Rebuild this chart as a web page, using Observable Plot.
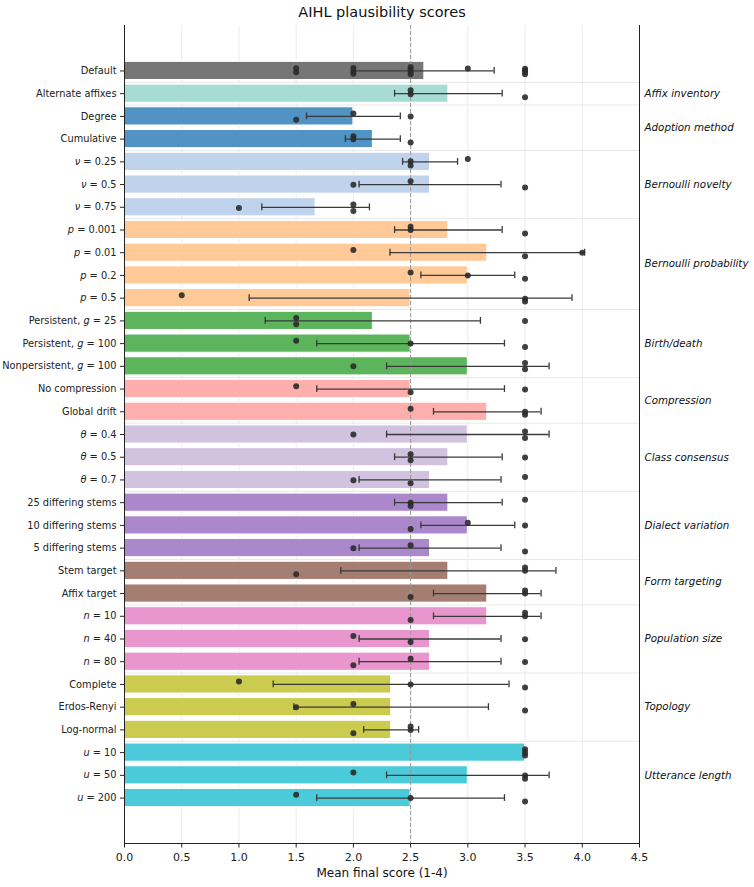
<!DOCTYPE html>
<html><head><meta charset="utf-8">
<script src="https://cdn.jsdelivr.net/npm/d3@7"></script>
<script src="https://cdn.jsdelivr.net/npm/@observablehq/plot@0.6"></script>
<style>body{margin:0;background:#fff}</style>
</head><body><div id="chart"></div>
<script>
const title = "AIHL plausibility scores";
const xLabel = "Mean final score (1-4)";
const xTicks = [0, 0.5, 1, 1.5, 2, 2.5, 3, 3.5, 4, 4.5];
const refLine = 2.5;

const labels = [
  "Default", "Alternate affixes", "Degree", "Cumulative",
  "*ν* = 0.25", "*ν* = 0.5", "*ν* = 0.75",
  "*p* = 0.001", "*p* = 0.01", "*p* = 0.2", "*p* = 0.5",
  "Persistent, *g* = 25", "Persistent, *g* = 100", "Nonpersistent, *g* = 100",
  "No compression", "Global drift",
  "*θ* = 0.4", "*θ* = 0.5", "*θ* = 0.7",
  "25 differing stems", "10 differing stems", "5 differing stems",
  "Stem target", "Affix target",
  "*n* = 10", "*n* = 40", "*n* = 80",
  "Complete", "Erdos-Renyi", "Log-normal",
  "*u* = 10", "*u* = 50", "*u* = 200"
];
const means = [2.62, 2.83, 2.0, 2.17, 2.67, 2.67, 1.67, 2.83, 3.17, 3.0, 2.5,
  2.17, 2.5, 3.0, 2.5, 3.17, 3.0, 2.83, 2.67, 2.83, 3.0, 2.67, 2.83, 3.17,
  3.17, 2.67, 2.67, 2.33, 2.33, 2.33, 3.5, 3.0, 2.5];
const errors = [0.61, 0.47, 0.41, 0.24, 0.24, 0.62, 0.47, 0.47, 0.85, 0.41, 1.41,
  0.94, 0.82, 0.71, 0.82, 0.47, 0.71, 0.47, 0.62, 0.47, 0.41, 0.62, 0.94, 0.47,
  0.47, 0.62, 0.62, 1.03, 0.85, 0.24, 0, 0.71, 0.82];
const pointValues = [
  [1.5, 1.5, 2.0, 2.0, 2.0, 2.5, 2.5, 2.5, 2.5, 3.0, 3.5, 3.5, 3.5, 3.5],
  [2.5, 2.5, 3.5], [2.0, 1.5, 2.5], [2.0, 2.0, 2.5],
  [3.0, 2.5, 2.5], [2.5, 2.0, 3.5], [1.0, 2.0, 2.0],
  [2.5, 2.5, 3.5], [2.0, 4.0, 3.5], [2.5, 3.0, 3.5], [0.5, 3.5, 3.5],
  [1.5, 1.5, 3.5], [1.5, 2.5, 3.5], [2.0, 3.5, 3.5],
  [1.5, 2.5, 3.5], [2.5, 3.5, 3.5],
  [2.0, 3.5, 3.5], [2.5, 2.5, 3.5], [2.0, 2.5, 3.5],
  [2.5, 2.5, 3.5], [3.0, 2.5, 3.5], [2.5, 2.0, 3.5],
  [1.5, 3.5, 3.5], [2.5, 3.5, 3.5],
  [2.5, 3.5, 3.5], [2.0, 2.5, 3.5], [2.5, 2.0, 3.5],
  [1.0, 2.5, 3.5], [2.0, 1.5, 3.5], [2.5, 2.5, 2.0],
  [3.5, 3.5, 3.5], [2.0, 3.5, 3.5], [1.5, 2.5, 3.5]
];
const pointJitter = [
  [-0.12, 0.06, -0.13, 0.0, 0.12, -0.17, -0.07, 0.04, 0.14, -0.11, -0.1, -0.02, 0.05, 0.15],
  [-0.15, 0.03, 0.16], [-0.13, 0.15, 0.0], [-0.13, 0.01, 0.15],
  [-0.13, -0.03, 0.16], [-0.15, 0.01, 0.13], [0.03, -0.12, 0.16],
  [-0.14, 0.0, 0.15], [-0.12, 0.0, 0.15], [-0.13, 0.0, 0.15], [-0.13, 0.03, 0.15],
  [-0.13, 0.15, 0.0], [-0.13, 0.0, 0.15], [0.0, -0.15, 0.13],
  [-0.12, 0.14, 0.02], [-0.13, 0.0, 0.13],
  [0.0, -0.13, 0.15], [-0.13, 0.13, 0.01], [0.01, 0.15, -0.13],
  [0.0, 0.15, -0.13], [-0.12, 0.16, 0.0], [-0.13, 0.01, 0.15],
  [0.15, -0.15, 0.0], [0.15, -0.13, 0.0],
  [0.16, -0.15, 0.0], [-0.13, 0.13, 0.01], [-0.13, 0.15, 0.01],
  [-0.13, 0.0, 0.13], [-0.14, 0.0, 0.15], [-0.15, 0.0, 0.15],
  [-0.15, 0.0, 0.13], [-0.13, 0.01, 0.15], [-0.15, 0.0, 0.15]
];
const groupNames = ["", "Affix inventory", "Adoption method", "Bernoulli novelty",
  "Bernoulli probability", "Birth/death", "Compression", "Class consensus",
  "Dialect variation", "Form targeting", "Population size", "Topology", "Utterance length"];
const groupSizes = [1, 1, 2, 3, 4, 3, 2, 3, 3, 2, 3, 3, 3];
const groupColors = ["#767676", "#a6dcd4", "#5193c5", "#c0d3ec", "#ffc998", "#5cb55c",
  "#ffaeae", "#d1c2df", "#aa88cb", "#a57e72", "#e995ce", "#cbcb4f", "#4bcbd9"];

// build tables
const rowGroup = [];
groupSizes.forEach((n, g) => { for (let k = 0; k < n; k++) rowGroup.push(g); });
const rows = labels.map((label, i) => ({
  i, label, mean: means[i], err: errors[i], color: groupColors[rowGroup[i]]
}));
const pts = pointValues.flatMap((vals, i) => vals.map((v, k) => ({v, y: i + pointJitter[i][k]})));
const caps = rows.flatMap(r => [{x: r.mean - r.err, i: r.i}, {x: r.mean + r.err, i: r.i}]);
let start = 0;
const groupLabels = [];
const separators = [];
groupSizes.forEach((n, g) => {
  groupLabels.push({name: groupNames[g], pos: start + (n - 1) / 2});
  start += n;
  if (start < labels.length) separators.push(start - 0.5);
});

const chart = Plot.plot({
  width: 754, height: 887,
  marginTop: 25, marginRight: 115, marginBottom: 44, marginLeft: 124,
  style: {fontFamily: "DejaVu Sans", background: "#fff", color: "#222"},
  x: {domain: [0, 4.5]},
  y: {domain: [-2, 34], reverse: true},
  color: {type: "identity"},
  marks: [
    Plot.ruleX(xTicks, {stroke: "#ebebeb", strokeWidth: 1}),
    Plot.ruleY(separators, {stroke: "#e8e8e8", strokeWidth: 1}),
    Plot.rect(rows, {x1: 0, x2: "mean", y1: d => d.i - 0.4, y2: d => d.i + 0.4,
      fill: "color", stroke: "white", strokeWidth: 1}),
    Plot.ruleX([refLine], {stroke: "#999", strokeDasharray: "4,2", strokeWidth: 1}),
    Plot.ruleY(rows, {y: "i", x1: d => d.mean - d.err, x2: d => d.mean + d.err,
      stroke: "#3a3a3a", strokeWidth: 1.3}),
    Plot.ruleX(caps, {x: "x", y1: d => d.i - 0.15, y2: d => d.i + 0.15,
      stroke: "#3a3a3a", strokeWidth: 1.3}),
    Plot.dot(pts, {x: "v", y: "y", r: 3, fill: "#2b2b2b", fillOpacity: 0.9, stroke: null}),
    Plot.ruleX([0, 4.5], {stroke: "#222", strokeWidth: 1}),
    Plot.ruleY([34], {stroke: "#222", strokeWidth: 1}),
    Plot.axisY({ticks: d3.range(labels.length), tickFormat: i => labels[i],
      tickSize: 4, tickPadding: 4, fontSize: 9.8, label: null}),
    Plot.axisX({ticks: xTicks, tickFormat: d => d.toFixed(1), tickSize: 4.5,
      tickPadding: 5, fontSize: 11, label: null}),
    Plot.text(groupLabels.filter(d => d.name), {x: 4.5, y: "pos", text: "name",
      textAnchor: "start", dx: 5, fontStyle: "italic", fontSize: 10.3, fill: "#111"}),
    Plot.text([title], {frameAnchor: "top", lineAnchor: "middle", dy: -13, fontSize: 14.5, fill: "#111"}),
    Plot.text([xLabel], {frameAnchor: "bottom", lineAnchor: "middle", dy: 30, fontSize: 12, fill: "#111"})
  ]
});

// italicize math variables marked with *...*
chart.querySelectorAll("text").forEach(t => {
  const s = t.textContent;
  if (s.includes("*")) {
    const parts = s.split("*");
    while (t.firstChild) t.removeChild(t.firstChild);
    parts.forEach((p, k) => {
      if (!p) return;
      const ts = document.createElementNS("http://www.w3.org/2000/svg", "tspan");
      ts.textContent = p;
      if (k % 2) ts.setAttribute("font-style", "italic");
      t.appendChild(ts);
    });
  }
});
document.getElementById("chart").appendChild(chart);
</script>
</body></html>
